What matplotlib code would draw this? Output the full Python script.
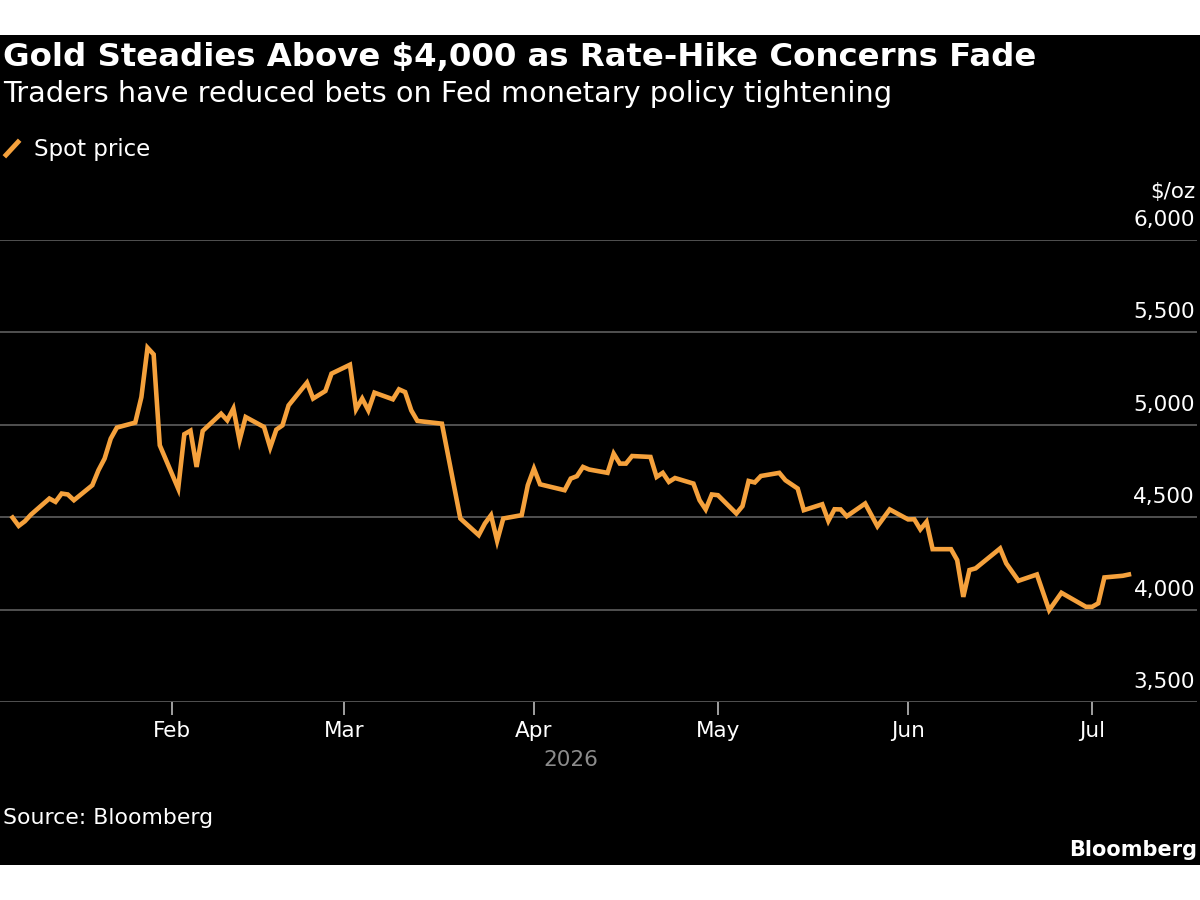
import pandas as pd
import matplotlib
matplotlib.use("Agg")
import matplotlib.pyplot as plt
import matplotlib.dates as mdates
import matplotlib.transforms as mtransforms
from matplotlib.patches import Rectangle
from matplotlib.lines import Line2D

plt.rcParams["font.family"] = ["DejaVu Sans"]

# Spot gold, $/oz
dates = [
    "2026-01-06", "2026-01-07", "2026-01-08", "2026-01-09", "2026-01-12", "2026-01-13",
    "2026-01-14", "2026-01-15", "2026-01-16", "2026-01-19", "2026-01-20", "2026-01-21",
    "2026-01-22", "2026-01-23", "2026-01-26", "2026-01-27", "2026-01-28", "2026-01-29",
    "2026-01-30", "2026-02-02", "2026-02-03", "2026-02-04", "2026-02-05", "2026-02-06",
    "2026-02-09", "2026-02-10", "2026-02-11", "2026-02-12", "2026-02-13", "2026-02-16",
    "2026-02-17", "2026-02-18", "2026-02-19", "2026-02-20", "2026-02-23", "2026-02-24",
    "2026-02-26", "2026-02-27", "2026-03-02", "2026-03-03", "2026-03-04", "2026-03-05",
    "2026-03-06", "2026-03-09", "2026-03-10", "2026-03-11", "2026-03-12", "2026-03-13",
    "2026-03-17", "2026-03-20", "2026-03-23", "2026-03-24", "2026-03-25", "2026-03-26",
    "2026-03-27", "2026-03-30", "2026-03-31", "2026-04-01", "2026-04-02", "2026-04-06",
    "2026-04-07", "2026-04-08", "2026-04-09", "2026-04-10", "2026-04-13", "2026-04-14",
    "2026-04-15", "2026-04-16", "2026-04-17", "2026-04-20", "2026-04-21", "2026-04-22",
    "2026-04-23", "2026-04-24", "2026-04-27", "2026-04-28", "2026-04-29", "2026-04-30",
    "2026-05-01", "2026-05-04", "2026-05-05", "2026-05-06", "2026-05-07", "2026-05-08",
    "2026-05-11", "2026-05-12", "2026-05-14", "2026-05-15", "2026-05-18", "2026-05-19",
    "2026-05-20", "2026-05-21", "2026-05-22", "2026-05-25", "2026-05-27", "2026-05-29",
    "2026-06-01", "2026-06-02", "2026-06-03", "2026-06-04", "2026-06-05", "2026-06-08",
    "2026-06-09", "2026-06-10", "2026-06-11", "2026-06-12", "2026-06-16", "2026-06-17",
    "2026-06-19", "2026-06-22", "2026-06-24", "2026-06-26", "2026-06-30", "2026-07-01",
    "2026-07-02", "2026-07-03", "2026-07-06", "2026-07-07",
]
spot = [
    4498, 4453, 4478, 4514, 4601, 4583,
    4628, 4623, 4592, 4673, 4754, 4817,
    4925, 4985, 5012, 5150, 5417, 5381,
    4889, 4655, 4949, 4968, 4772, 4967,
    5060, 5024, 5088, 4916, 5042, 4988,
    4877, 4974, 4997, 5105, 5228, 5142,
    5183, 5277, 5325, 5084, 5142, 5078,
    5174, 5138, 5192, 5177, 5078, 5021,
    5006, 4493, 4403, 4466, 4511, 4372,
    4493, 4511, 4673, 4763, 4678, 4646,
    4709, 4722, 4772, 4758, 4740, 4844,
    4790, 4790, 4831, 4826, 4718, 4740,
    4691, 4712, 4682, 4592, 4542, 4623,
    4619, 4520, 4560, 4696, 4688, 4723,
    4740, 4700, 4655, 4538, 4570, 4480,
    4543, 4542, 4505, 4574, 4451, 4542,
    4488, 4489, 4434, 4475, 4327, 4327,
    4268, 4069, 4214, 4223, 4331, 4250,
    4156, 4190, 3997, 4091, 4015, 4015,
    4034, 4174, 4183, 4190,
]
y_ticks = [3500, 4000, 4500, 5000, 5500, 6000]
month_ticks = ["2026-02-01", "2026-03-01", "2026-04-01", "2026-05-01", "2026-06-01", "2026-07-01"]
month_labels = ["Feb", "Mar", "Apr", "May", "Jun", "Jul"]

df = pd.DataFrame({"date": pd.to_datetime(dates), "spot": spot})

orange = "#f5a13c"
grid = "#5e5e5e"

fig = plt.figure(figsize=(12, 9), dpi=100)
fig.patch.set_facecolor("white")
# black panel, kept behind the axes
fig.patches.append(Rectangle((0, 35 / 900), 1, 830 / 900, transform=fig.transFigure,
                             facecolor="black", edgecolor="none", zorder=-5))

ax = fig.add_axes([0, 198 / 900, 1197 / 1200, 462 / 900])
ax.set_facecolor("none")

ax.plot(df["date"], df["spot"], color=orange, lw=3.3, solid_joinstyle="miter", zorder=3)

start = pd.Timestamp("2026-01-01")
ax.set_xlim(mdates.date2num(start + pd.Timedelta(days=2.95)),
            mdates.date2num(start + pd.Timedelta(days=198.1)))
ax.set_ylim(y_ticks[0], y_ticks[-1])

for s in ax.spines.values():
    s.set_visible(False)

ax.set_yticks(y_ticks)
ax.yaxis.grid(True, color=grid, lw=1.2)
ax.tick_params(axis="y", length=0, labelleft=False, labelright=False)
ax.set_axisbelow(True)

# value labels sit just above each gridline, right-aligned
lab_tr = mtransforms.offset_copy(ax.get_yaxis_transform(), fig=fig, x=-2, y=14, units="dots")
for v in y_ticks:
    ax.text(1.0, v, f"{v:,}", transform=lab_tr, ha="right", va="baseline",
            color="white", fontsize=15.5, clip_on=False)
ax.text(1.0, y_ticks[-1], "$/oz", transform=mtransforms.offset_copy(
    ax.get_yaxis_transform(), fig=fig, x=-2, y=42, units="dots"),
    ha="right", va="baseline", color="white", fontsize=15.5, clip_on=False)

ax.set_xticks(pd.to_datetime(month_ticks))
ax.set_xticklabels(month_labels)
ax.tick_params(axis="x", direction="out", length=9.5, width=1.2, color="#bbbbbb",
               labelcolor="white", labelsize=15.5, pad=4)

mid = df["date"].min() + (df["date"].max() - df["date"].min()) / 2
ax.text(mid, -0.125, "2026", transform=ax.get_xaxis_transform(), ha="center", va="center",
        color="#8c8c8c", fontsize=15.5)

# titles
fig.text(3 / 1200, 1 - 66 / 900, "Gold Steadies Above $4,000 as Rate-Hike Concerns Fade",
         color="white", fontsize=23.3, fontweight="bold", va="baseline")
fig.text(3 / 1200, 1 - 102 / 900, "Traders have reduced bets on Fed monetary policy tightening",
         color="white", fontsize=20.7, va="baseline")

# legend
fig.lines.append(Line2D([6 / 1200, 18 / 1200], [1 - 155 / 900, 1 - 142 / 900],
                        transform=fig.transFigure, color=orange, lw=3.5))
fig.text(34 / 1200, 1 - 156 / 900, "Spot price", color="white", fontsize=16.5, va="baseline")

fig.text(3 / 1200, 1 - 824 / 900, "Source: Bloomberg", color="white", fontsize=15.8,
         va="baseline")
fig.text(1197 / 1200, 1 - 856 / 900, "Bloomberg", color="white", fontsize=15,
         fontweight="bold", ha="right", va="baseline")

fig.savefig("out.png", dpi=100, facecolor=fig.get_facecolor())
